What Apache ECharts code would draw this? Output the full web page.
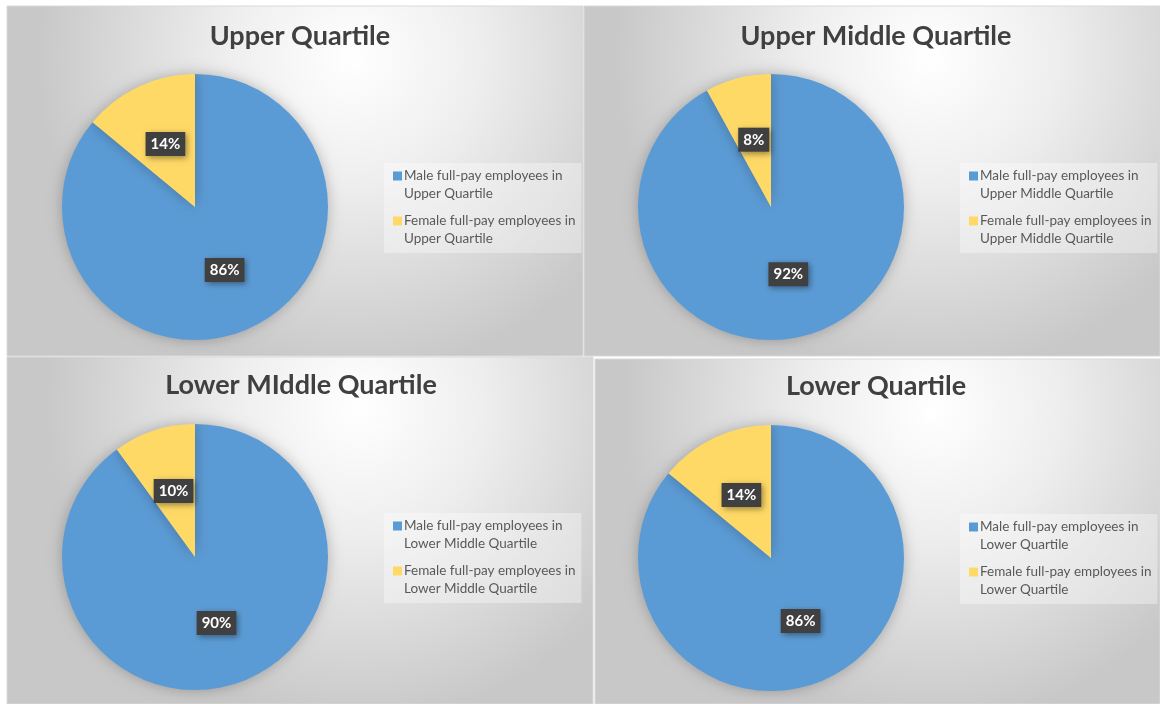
<!DOCTYPE html>
<html>
<head>
<meta charset="utf-8">
<script src="https://cdn.jsdelivr.net/npm/echarts@6/dist/echarts.min.js"></script>
<style>
  html, body { margin: 0; padding: 0; background: #ffffff; }
  #chart { width: 1160px; height: 704px; }
</style>
</head>
<body>
<div id="chart"></div>
<script>
// Data
const quartiles = ['Upper Quartile', 'Upper Middle Quartile', 'Lower Middle Quartile', 'Lower Quartile'];
const titles = ['Upper Quartile', 'Upper Middle Quartile', 'Lower MIddle Quartile', 'Lower Quartile'];
const maleShare = [86, 92, 90, 86];
const femaleShare = [14, 8, 10, 14];

const colors = ['#5b9bd5', '#ffd966'];
const font = 'Lato, "Open Sans", sans-serif';

// panel boxes [x, y, w, h]
const panels = [
    [7, 6, 576, 350],
    [584, 6, 576, 350],
    [7, 357, 586, 347],
    [595, 359, 565, 345]
];
const pieCenters = [[195, 207], [771, 207], [195, 557], [771, 558]];
const titleCenters = [[300, 23], [876, 23], [301, 372], [876, 373]];
const legendPos = [[384, 163], [960, 163], [384, 513], [960, 514]];

const chart = echarts.init(document.getElementById('chart'));

const graphic = panels.map(p => ({
    type: 'rect',
    shape: { x: p[0], y: p[1], width: p[2], height: p[3] },
    style: {
        fill: new echarts.graphic.RadialGradient(0.6, 0.15, 0.9, [
            { offset: 0, color: '#ffffff' },
            { offset: 0.4, color: '#eeeeee' },
            { offset: 1, color: '#c8c8c8' }
        ]),
        stroke: '#d9d9d9',
        lineWidth: 1
    },
    z: -10
}));

const title = titles.map((t, i) => ({
    text: t,
    left: titleCenters[i][0],
    top: titleCenters[i][1],
    textAlign: 'center',
    padding: 0,
    textStyle: { fontFamily: font, fontSize: 27, fontWeight: 'bold', color: '#404040' }
}));

// square marker sitting on the first text line
const markerIcon = 'path://M0,0h9v9h-9z M0,27h0.01v0.01h-0.01z';

const legend = quartiles.map((q, i) => ({
    left: legendPos[i][0],
    top: legendPos[i][1],
    orient: 'vertical',
    data: ['Male full-pay employees in ' + q, 'Female full-pay employees in ' + q],
    itemWidth: 9,
    itemHeight: 27,
    itemGap: 9,
    padding: [4, 6, 5, 9],
    backgroundColor: 'rgba(255,255,255,0.35)',
    icon: markerIcon,
    selectedMode: false,
    formatter: name => name.replace(' in ', ' in\n'),
    textStyle: { fontFamily: font, fontSize: 13.5, color: '#595959', lineHeight: 18, padding: [0, 0, 0, -3] }
}));

const series = quartiles.map((q, i) => ({
    type: 'pie',
    center: pieCenters[i],
    radius: 133,
    startAngle: 90,
    clockwise: true,
    silent: true,
    color: colors,
    itemStyle: { shadowBlur: 14, shadowColor: 'rgba(0,0,0,0.25)' },
    label: {
        position: 'inside',
        formatter: '{c}%',
        fontFamily: font,
        fontSize: 15,
        fontWeight: 'bold',
        color: '#ffffff',
        backgroundColor: '#404040',
        padding: [5, 5, 4, 5],
        shadowBlur: 6,
        shadowOffsetX: 2,
        shadowOffsetY: 2,
        shadowColor: 'rgba(0,0,0,0.4)'
    },
    labelLine: { show: false },
    data: [
        { name: 'Male full-pay employees in ' + q, value: maleShare[i] },
        { name: 'Female full-pay employees in ' + q, value: femaleShare[i] }
    ]
}));

chart.setOption({
    animation: false,
    graphic: graphic,
    title: title,
    legend: legend,
    series: series
});
</script>
</body>
</html>
